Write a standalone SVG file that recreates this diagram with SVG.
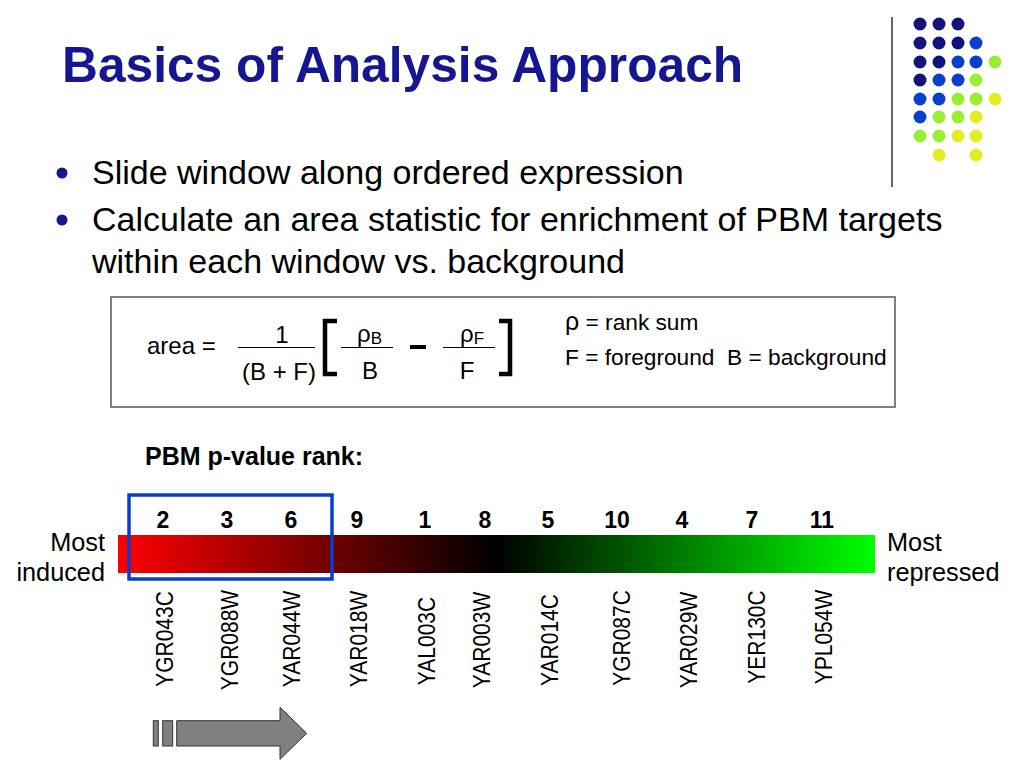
<svg xmlns="http://www.w3.org/2000/svg" width="1024" height="768" viewBox="0 0 1024 768">
<defs>
<style>
.t{font-family:"Liberation Sans",Arial,sans-serif;fill:#000}
.title{font-family:"Liberation Sans",Arial,sans-serif;font-weight:bold;font-size:49.7px;fill:#161690}
.bul{font-family:"Liberation Sans",Arial,sans-serif;font-size:34px;fill:#000}
.f{font-family:"Liberation Sans",Arial,sans-serif;font-size:24px;fill:#000}
.num{font-family:"Liberation Sans",Arial,sans-serif;font-weight:bold;font-size:23px;fill:#000;text-anchor:middle}
.lab{font-family:"Liberation Sans",Arial,sans-serif;font-size:22.7px;fill:#000;white-space:pre}
.side{font-family:"Liberation Sans",Arial,sans-serif;font-size:25.3px;fill:#000}
.gene{font-family:"Liberation Sans",Arial,sans-serif;font-size:21px;fill:#000;text-anchor:middle}
.n{fill:#141478}.b{fill:#0a3fcc}.g{fill:#99ee33}.y{fill:#e2ee22}
</style>
<linearGradient id="grad" x1="0" y1="0" x2="1" y2="0">
<stop offset="0" stop-color="#ff0000"/>
<stop offset="0.5" stop-color="#000000"/>
<stop offset="1" stop-color="#00ff00"/>
</linearGradient>
</defs>
<rect width="1024" height="768" fill="#fff"/>

<g id="decor">
<line x1="892" y1="17" x2="892" y2="187" stroke="#333" stroke-width="1.5"/>
<circle class="n" cx="920" cy="24" r="6.5"/><circle class="n" cx="939" cy="24" r="6.5"/><circle class="n" cx="958" cy="24" r="6.5"/>
<circle class="n" cx="920" cy="43" r="6.5"/><circle class="n" cx="939" cy="43" r="6.5"/><circle class="n" cx="958" cy="43" r="6.5"/><circle class="b" cx="976" cy="43" r="6.5"/>
<circle class="n" cx="920" cy="62" r="6.5"/><circle class="n" cx="939" cy="62" r="6.5"/><circle class="b" cx="958" cy="62" r="6.5"/><circle class="b" cx="976" cy="62" r="6.5"/><circle class="g" cx="995" cy="62" r="6.5"/>
<circle class="n" cx="920" cy="80" r="6.5"/><circle class="b" cx="939" cy="80" r="6.5"/><circle class="b" cx="958" cy="80" r="6.5"/><circle class="g" cx="976" cy="80" r="6.5"/>
<circle class="b" cx="920" cy="99" r="6.5"/><circle class="b" cx="939" cy="99" r="6.5"/><circle class="g" cx="958" cy="99" r="6.5"/><circle class="g" cx="976" cy="99" r="6.5"/><circle class="y" cx="995" cy="99" r="6.5"/>
<circle class="b" cx="920" cy="117" r="6.5"/><circle class="g" cx="939" cy="117" r="6.5"/><circle class="g" cx="958" cy="117" r="6.5"/><circle class="y" cx="976" cy="117" r="6.5"/>
<circle class="g" cx="920" cy="136" r="6.5"/><circle class="g" cx="939" cy="136" r="6.5"/><circle class="y" cx="958" cy="136" r="6.5"/><circle class="y" cx="976" cy="136" r="6.5"/>
<circle class="y" cx="939" cy="155" r="6.5"/><circle class="y" cx="976" cy="155" r="6.5"/>
</g>

<g id="title"><text class="title" x="62" y="82">Basics of Analysis Approach</text></g>

<g id="bullets">
<circle cx="62" cy="173" r="5.5" fill="#161690"/>
<circle cx="62" cy="220" r="5.5" fill="#161690"/>
<text class="bul" x="92" y="184">Slide window along ordered expression</text>
<text class="bul" x="92" y="231">Calculate an area statistic for enrichment of PBM targets</text>
<text class="bul" x="92" y="273">within each window vs. background</text>
</g>

<g id="formula">
<rect x="111" y="297" width="784" height="110" fill="#fff" stroke="#808080" stroke-width="2"/>
<text class="f" x="147" y="354">area =</text>
<text class="f" x="282" y="343" text-anchor="middle">1</text>
<line x1="238" y1="347.5" x2="315" y2="347.5" stroke="#000" stroke-width="1"/>
<text class="f" x="279" y="380" text-anchor="middle">(B + F)</text>
<path d="M337,321 H325 V374 H337" fill="none" stroke="#000" stroke-width="4.5"/>
<text class="f" x="357" y="342">ρ<tspan font-size="17" dy="2">B</tspan></text>
<line x1="341" y1="347.5" x2="393" y2="347.5" stroke="#000" stroke-width="1"/>
<text class="f" x="370" y="379" text-anchor="middle">B</text>
<line x1="410" y1="347" x2="426" y2="347" stroke="#000" stroke-width="4"/>
<text class="f" x="460" y="342">ρ<tspan font-size="17" dy="2">F</tspan></text>
<line x1="443" y1="347.5" x2="495" y2="347.5" stroke="#000" stroke-width="1"/>
<text class="f" x="467" y="379" text-anchor="middle">F</text>
<path d="M499,321 H510 V374 H499" fill="none" stroke="#000" stroke-width="4.5"/>
<text class="lab" x="565" y="330"><tspan font-size="25">ρ</tspan> = rank sum</text>
<text class="lab" x="565" y="365">F = foreground  B = background</text>
</g>

<g id="rank-title"><text class="t" x="145" y="465" font-size="25" font-weight="bold">PBM p-value rank:</text></g>

<g id="bar">
<rect x="118" y="535" width="757" height="38" fill="url(#grad)"/>
<text class="side" x="105" y="551" text-anchor="end">Most</text>
<text class="side" x="105" y="581" text-anchor="end">induced</text>
<text class="side" x="887" y="551">Most</text>
<text class="side" x="887" y="581">repressed</text>
</g>

<g id="window"><rect x="129" y="495" width="203" height="84" fill="none" stroke="#0a3fcc" stroke-width="3.5"/></g>

<g id="ranks">
<text class="num" x="163" y="528">2</text>
<text class="num" x="227" y="528">3</text>
<text class="num" x="291" y="528">6</text>
<text class="num" x="357" y="528">9</text>
<text class="num" x="425" y="528">1</text>
<text class="num" x="485" y="528">8</text>
<text class="num" x="548" y="528">5</text>
<text class="num" x="617" y="528">10</text>
<text class="num" x="682" y="528">4</text>
<text class="num" x="752" y="528">7</text>
<text class="num" x="822" y="528">11</text>
</g>

<g id="genes">
<text class="gene" transform="translate(173,639) rotate(-90) scale(1,1.17)">YGR043C</text>
<text class="gene" transform="translate(238,640) rotate(-90) scale(1,1.17)">YGR088W</text>
<text class="gene" transform="translate(300,639) rotate(-90) scale(1,1.17)">YAR044W</text>
<text class="gene" transform="translate(367,639) rotate(-90) scale(1,1.17)">YAR018W</text>
<text class="gene" transform="translate(435,641) rotate(-90) scale(1,1.17)">YAL003C</text>
<text class="gene" transform="translate(490,640) rotate(-90) scale(1,1.17)">YAR003W</text>
<text class="gene" transform="translate(558,640) rotate(-90) scale(1,1.17)">YAR014C</text>
<text class="gene" transform="translate(630,638) rotate(-90) scale(1,1.17)">YGR087C</text>
<text class="gene" transform="translate(697,640) rotate(-90) scale(1,1.17)">YAR029W</text>
<text class="gene" transform="translate(765,637) rotate(-90) scale(1,1.17)">YER130C</text>
<text class="gene" transform="translate(832,637) rotate(-90) scale(1,1.17)">YPL054W</text>
</g>

<g id="arrow" fill="#808080" stroke="#333" stroke-width="1">
<rect x="153.3" y="720.7" width="5" height="25.3"/>
<rect x="162.7" y="720.7" width="10" height="25.3"/>
<polygon points="176.7,720.7 280,720.7 280,707.3 306.7,733.3 280,759.3 280,746 176.7,746"/>
</g>
</svg>
